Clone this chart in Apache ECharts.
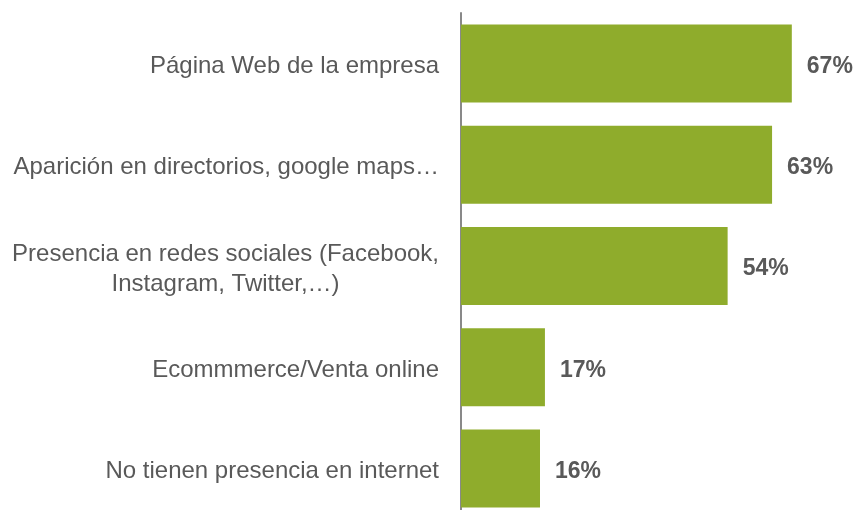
<!DOCTYPE html>
<html>
<head>
<meta charset="utf-8">
<script src="https://cdn.jsdelivr.net/npm/echarts@6/dist/echarts.min.js"></script>
<style>
  html, body { margin: 0; padding: 0; background: #fff; overflow: hidden; }
  #chart { width: 857px; height: 522px; }
</style>
</head>
<body>
<div id="chart"></div>
<script>
const categories = [
  "Página Web de la empresa",
  "Aparición en directorios, google maps…",
  "Presencia en redes sociales (Facebook,\nInstagram, Twitter,…)",
  "Ecommmerce/Venta online",
  "No tienen presencia en internet"
];
const values = [67, 63, 54, 17, 16];

const chart = echarts.init(document.getElementById("chart"));

chart.setOption({
  animation: false,
  textStyle: { fontFamily: "Liberation Sans, Arial, sans-serif" },
  grid: { left: 461, top: 13, width: 395, height: 506 },
  xAxis: {
    type: "value",
    min: 0,
    max: 80,
    show: false
  },
  yAxis: {
    type: "category",
    inverse: true,
    data: categories,
    axisLine: { show: true, lineStyle: { color: "#898989", width: 2 } },
    axisTick: { show: false },
    axisLabel: {
      margin: 22,
      color: "#595959",
      fontSize: 24,
      lineHeight: 30,
      padding: [6, 0, 0, 0],
      formatter: function (v) {
        return v.split("\n").map(function (s) { return "{c|" + s + "}"; }).join("\n");
      },
      rich: {
        c: { align: "center", color: "#595959", fontSize: 24, lineHeight: 30 }
      }
    }
  },
  series: [{
    type: "bar",
    data: values,
    barWidth: 78,
    itemStyle: { color: "#8fac2c" },
    label: {
      show: true,
      position: "right",
      distance: 15,
      offset: [0, 3],
      formatter: "{c}%",
      color: "#595959",
      fontSize: 23,
      fontWeight: "bold"
    }
  }]
});
</script>
</body>
</html>
